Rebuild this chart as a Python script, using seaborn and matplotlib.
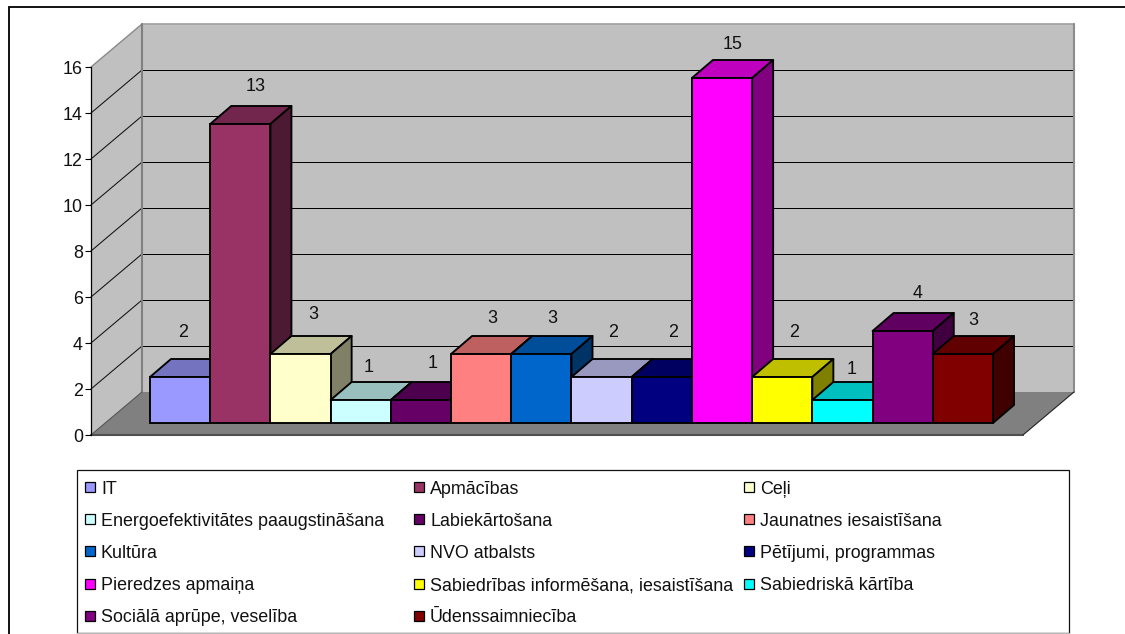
import matplotlib
matplotlib.use("Agg")
import matplotlib.pyplot as plt
from matplotlib.patches import Polygon, Rectangle
import pandas as pd
import seaborn as sns

# ---- data ----
categories = ["IT", "Apmācības", "Ceļi", "Energoefektivitātes paaugstināšana",
              "Labiekārtošana", "Jaunatnes iesaistīšana", "Kultūra", "NVO atbalsts",
              "Pētījumi, programmas", "Pieredzes apmaiņa",
              "Sabiedrības informēšana, iesaistīšana", "Sabiedriskā kārtība",
              "Sociālā aprūpe, veselība", "Ūdenssaimniecība"]
values = [2, 13, 3, 1, 1, 3, 3, 2, 2, 15, 2, 1, 4, 3]
colors = ["#9999FF", "#993366", "#FFFFCC", "#CCFFFF", "#660066", "#FF8080", "#0066CC",
          "#CCCCFF", "#000080", "#FF00FF", "#FFFF00", "#00FFFF", "#800080", "#800000"]
y_ticks = [0, 2, 4, 6, 8, 10, 12, 14, 16]

# label placement relative to each bar's front-top centre, in pixels
label_dx = [3, 15, 13, 8, 12, 11, 11, 11, 11, 11, 12, 9, 15, 10]
label_dy = [46, 39, 41, 35, 38, 37, 37, 46, 46, 35, 46, 32, 39, 35]

# ---- layout, in reference pixels ----
W, H = 1125, 634
PX_PER_UNIT = 23.0
FRONT_X, FRONT_Y0 = 91, 435      # front-left corner of the floor
DEPTH_X, DEPTH_Y = 51, 43        # depth of the box
BOX_RIGHT = 1023                 # front-right corner of the floor
BAR_L, BAR_R, BAR_Y0 = 150, 993, 423
BAR_DX, BAR_DY = 21, 18          # depth of a bar
FONT = 12.9
EDGE = 1.35
FACE_TOP, FACE_SIDE = 0.75, 0.5

sns.set_theme(style="white")
plt.rcParams["font.family"] = ["Liberation Sans", "DejaVu Sans"]

fig = plt.figure(figsize=(W / 100, H / 100), dpi=100, facecolor="white")


def frac_rect(l, t, r, b):
    return [l / W, 1 - b / H, (r - l) / W, (b - t) / H]


def shade(c, f):
    rgb = matplotlib.colors.to_rgb(c)
    return tuple(v * f for v in rgb)


# chrome layer in pixel coordinates
bg = fig.add_axes([0, 0, 1, 1], zorder=0)
bg.set_xlim(0, W)
bg.set_ylim(H, 0)
bg.axis("off")


def ypx(v):
    return FRONT_Y0 - PX_PER_UNIT * v


top_v = y_ticks[-1]
xl, xr = FRONT_X, BOX_RIGHT
bx = xl + DEPTH_X
br = xr + DEPTH_X
# walls and floor
bg.add_patch(Polygon([(xl, ypx(0)), (bx, ypx(0) - DEPTH_Y), (bx, ypx(top_v) - DEPTH_Y), (xl, ypx(top_v))],
                     fc="#C0C0C0", ec="none"))
bg.add_patch(Rectangle((bx, ypx(top_v) - DEPTH_Y), br - bx, PX_PER_UNIT * top_v, fc="#C0C0C0", ec="none"))
bg.add_patch(Polygon([(xl, ypx(0)), (bx, ypx(0) - DEPTH_Y), (br, ypx(0) - DEPTH_Y), (xr, ypx(0))],
                     fc="#808080", ec="none"))
# gridlines: diagonal on the side wall, horizontal on the back wall
for v in y_ticks[1:-1]:
    bg.plot([xl, bx], [ypx(v), ypx(v) - DEPTH_Y], color="#111111", lw=0.75, zorder=2)
    bg.plot([bx, br], [ypx(v) - DEPTH_Y, ypx(v) - DEPTH_Y], color="black", lw=0.72, zorder=2)
# box edges
bg.plot([xl, bx], [ypx(top_v), ypx(top_v) - DEPTH_Y], color="#8A8A8A", lw=1.0, zorder=3)
bg.plot([bx, br], [ypx(top_v) - DEPTH_Y, ypx(top_v) - DEPTH_Y], color="#A0A0A0", lw=1.2, zorder=3)
bg.plot([bx, bx], [ypx(top_v) - DEPTH_Y, ypx(0) - DEPTH_Y], color="#808080", lw=1.5, zorder=3)
bg.plot([br, br], [ypx(top_v) - DEPTH_Y, ypx(0) - DEPTH_Y], color="#8C8C8C", lw=1.5, zorder=3)
bg.plot([xl, xr], [ypx(0), ypx(0)], color="#505050", lw=1.5, zorder=3)
bg.plot([xl, bx], [ypx(0), ypx(0) - DEPTH_Y], color="#555555", lw=0.8, zorder=3)
bg.plot([xr, br], [ypx(0), ypx(0) - DEPTH_Y], color="#222222", lw=0.8, zorder=3)

# outer frame (top and left only are visible in the crop)
bg.plot([9, 9, W], [H, 7, 7], color="black", lw=1.3, zorder=5, solid_joinstyle="miter")

# legend
bg.add_patch(Rectangle((77, 470), 1069 - 77, 163, fc="white", ec="#111111", lw=0.9, zorder=4))
bg.plot([77, 1069], [633, 633], color="#B8B8B8", lw=1.0, zorder=5)
legend_x = [85, 414, 744]
legend_y = [487, 519, 551, 584, 616]
for i, (name, col) in enumerate(zip(categories, colors)):
    row, c = divmod(i, 3)
    bg.add_patch(Rectangle((legend_x[c], legend_y[row] - 5), 10, 10, fc=col, ec="black", lw=0.9, zorder=6))
    bg.text(legend_x[c] + 16, legend_y[row], name, fontsize=FONT, color="#111111",
            ha="left", va="center_baseline", zorder=6)

# y axis on the front-left edge of the box
ax_y = fig.add_axes(frac_rect(FRONT_X, 24, BOX_RIGHT, FRONT_Y0), zorder=1)
ax_y.patch.set_visible(False)
ax_y.set_ylim(0, (FRONT_Y0 - 24) / PX_PER_UNIT)
ax_y.set_xticks([])
ax_y.set_yticks(y_ticks)
ax_y.tick_params(axis="y", left=True, length=4.3, width=0.8, color="black",
                 labelsize=FONT, pad=1.5, labelcolor="#111111")
for s in ("top", "right", "bottom"):
    ax_y.spines[s].set_visible(False)
ax_y.spines["left"].set_color("black")
ax_y.spines["left"].set_linewidth(0.9)
ax_y.spines["left"].set_bounds(y_ticks[0], y_ticks[-1])

# bars
ax = fig.add_axes(frac_rect(BAR_L, 10, BAR_R, BAR_Y0), zorder=2)
df = pd.DataFrame({"category": categories, "value": values})
sns.barplot(data=df, x="category", y="value", hue="category", order=categories,
            hue_order=categories, palette=colors, saturation=1, width=1.0, dodge=False,
            legend=False, edgecolor="black", linewidth=EDGE, ax=ax)
ax.set_xlim(-0.5, len(categories) - 0.5)
ax.set_ylim(0, (BAR_Y0 - 10) / PX_PER_UNIT)
ax.axis("off")
ax.patch.set_visible(False)

unit_x = (BAR_R - BAR_L) / len(categories)
ddx = BAR_DX / unit_x
ddy = BAR_DY / PX_PER_UNIT
bars = sorted([p for p in ax.patches if p.get_height() > 0], key=lambda p: p.get_x())
for i, (p, col) in enumerate(zip(bars, colors)):
    x0, w, v = p.get_x(), p.get_width(), p.get_height()
    p.set_zorder(2 * i + 11)
    p.set_clip_on(False)
    ax.add_patch(Polygon([(x0, v), (x0 + ddx, v + ddy), (x0 + w + ddx, v + ddy), (x0 + w, v)],
                         fc=shade(col, FACE_TOP), ec="black", lw=EDGE, zorder=2 * i + 10,
                         joinstyle="round", clip_on=False))
    ax.add_patch(Polygon([(x0 + w, 0), (x0 + w + ddx, ddy), (x0 + w + ddx, v + ddy), (x0 + w, v)],
                         fc=shade(col, FACE_SIDE), ec="black", lw=EDGE, zorder=2 * i + 10,
                         joinstyle="round", clip_on=False))
    ax.annotate(str(values[i]), xy=(x0 + w / 2, v),
                xytext=(label_dx[i] * 0.72, label_dy[i] * 0.72), textcoords="offset points",
                ha="center", va="center_baseline", fontsize=FONT, color="#111111", zorder=100)

fig.savefig("out.png", dpi=100)
